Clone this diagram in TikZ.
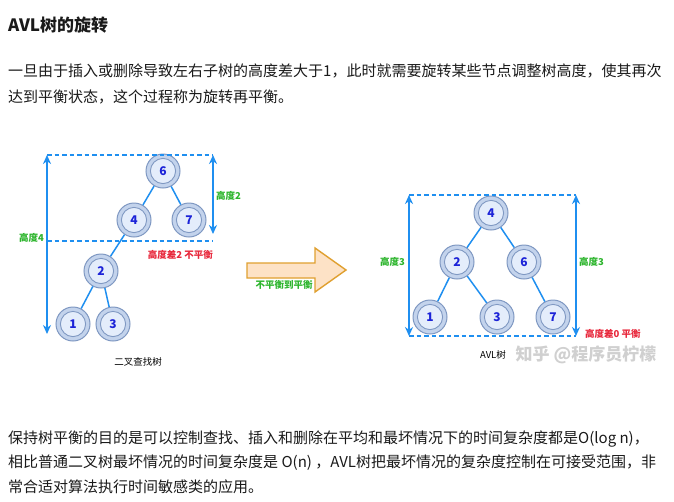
\documentclass[tikz,border=0pt]{standalone}
\usepackage{fontspec}
\setmainfont{Noto Sans CJK SC}
\usetikzlibrary{arrows.meta}

\definecolor{bodytext}{HTML}{1A1A1A}
\definecolor{linkblue}{HTML}{1F8FF0}
\definecolor{ringfill}{HTML}{C3D3EC}
\definecolor{ringdraw}{HTML}{7F98C2}
\definecolor{corefill}{HTML}{E4EDFB}
\definecolor{numblue}{HTML}{1C23D8}
\definecolor{labgreen}{HTML}{2DB52D}
\definecolor{labred}{HTML}{E8283C}
\definecolor{arrowfill}{HTML}{FDE2C6}
\definecolor{arrowdraw}{HTML}{E0A030}
\definecolor{markgrey}{HTML}{D0D0D0}

\tikzset{
  treenode/.style={circle, minimum size=34pt, inner sep=0pt, draw=ringdraw,
    fill=ringfill, line width=1pt, text=numblue, font=\fontsize{12}{12}\selectfont\bfseries,
    path picture={\draw[ringdraw, fill=corefill, line width=0.9pt]
      (path picture bounding box.center) circle (12.6pt);}},
  branch/.style={draw=linkblue, line width=1.5pt},
  measure/.style={draw=linkblue, line width=2pt, {Stealth[length=9pt,width=8pt]}-{Stealth[length=9pt,width=8pt]}},
  guide/.style={draw=linkblue, line width=1.5pt, dash pattern=on 4.5pt off 3pt},
  bodyline/.style={anchor=west, inner sep=0pt, text=bodytext, font=\fontsize{15}{15}\selectfont},
  greenlab/.style={inner sep=0pt, text=labgreen, font=\fontsize{9.5}{9.5}\selectfont\bfseries},
  redlab/.style={inner sep=0pt, text=labred, font=\fontsize{9.5}{9.5}\selectfont\bfseries},
  caption/.style={inner sep=0pt, text=black, font=\fontsize{9.5}{9.5}\selectfont},
  blockarrow/.style={draw=arrowdraw, fill=arrowfill, line width=1.4pt, line join=miter},
}

\begin{document}
\begin{tikzpicture}[x=1pt, y=-1pt]
\useasboundingbox[fill=white] (0,0) rectangle (674,501);

% heading and first paragraph
\node[anchor=west, inner sep=0pt, text=bodytext, font=\fontsize{17}{17}\selectfont\bfseries] (title) at (8,25) {AVL树的旋转};
\node[bodyline] (p1a) at (8,71) {一旦由于插入或删除导致左右子树的高度差大于1，此时就需要旋转某些节点调整树高度，使其再次};
\node[bodyline] (p1b) at (8,97) {达到平衡状态，这个过程称为旋转再平衡。};

% ---- unbalanced binary search tree ----
\node[treenode] (l6) at (163,171) {6};
\node[treenode] (l4) at (134,220) {4};
\node[treenode] (l7) at (189,220) {7};
\node[treenode] (l2) at (101,271) {2};
\node[treenode] (l1) at (73,324) {1};
\node[treenode] (l3) at (113,324) {3};
\draw[branch] (l6) -- (l4);
\draw[branch] (l6) -- (l7);
\draw[branch] (l4) -- (l2);
\draw[branch] (l2) -- (l1);
\draw[branch] (l2) -- (l3);

\coordinate (lTopL) at (47,155);
\coordinate (lTopR) at (213,155);
\coordinate (lMidL) at (47,241);
\coordinate (lMidR) at (213,241);
\coordinate (lBot)  at (47,334);
\coordinate (lMidRa) at (213,234);
\draw[guide] (lTopL) -- (lTopR);
\draw[guide] (lMidL) -- (lMidR);
\draw[measure] (lTopL) -- (lBot);
\draw[measure] (lTopR) -- (lMidRa);

\node[greenlab, anchor=east] (h4) at (44,238) {高度4};
\node[greenlab, anchor=west] (h2) at (216,196) {高度2};
\node[redlab, anchor=east] (d2) at (213,255) {高度差2 不平衡};
\node[caption] (bst) at (138,362) {二叉查找树};

% ---- rotation arrow ----
\draw[blockarrow] (247,263) -- (315,263) -- (315,248) -- (346,270)
  -- (315,292) -- (315,278) -- (247,278) -- cycle;
\node[greenlab] (rotlab) at (284,285) {不平衡到平衡};

% ---- balanced AVL tree ----
\node[treenode] (r4) at (491,213) {4};
\node[treenode] (r2) at (457,262) {2};
\node[treenode] (r6) at (524,262) {6};
\node[treenode] (r1) at (430,317) {1};
\node[treenode] (r3) at (497,317) {3};
\node[treenode] (r7) at (553,317) {7};
\draw[branch] (r4) -- (r2);
\draw[branch] (r4) -- (r6);
\draw[branch] (r2) -- (r1);
\draw[branch] (r2) -- (r3);
\draw[branch] (r6) -- (r7);

\coordinate (rTopL) at (409,195);
\coordinate (rTopR) at (576,195);
\coordinate (rBotL) at (409,336);
\coordinate (rBotR) at (576,336);
\draw[guide] (rTopL) -- (rTopR);
\draw[guide] (rBotL) -- (rBotR);
\draw[measure] (rTopL) -- (rBotL);
\draw[measure] (rTopR) -- (rBotR);

\node[greenlab, anchor=east] (h3l) at (405,262) {高度3};
\node[greenlab, anchor=west] (h3r) at (579,262) {高度3};
\node[redlab, anchor=west] (d0) at (585,334) {高度差0 平衡};
\node[caption] (avl) at (493,355) {AVL树};
\node[inner sep=0pt, text=markgrey, font=\fontsize{17}{17}\selectfont\bfseries] (mark) at (586,355) {知乎 @程序员柠檬};

% closing paragraph
\node[bodyline] (p2a) at (8,439) {保持树平衡的目的是可以控制查找、插入和删除在平均和最坏情况下的时间复杂度都是O(log n)，};
\node[bodyline] (p2b) at (8,463) {相比普通二叉树最坏情况的时间复杂度是 O(n) ，AVL树把最坏情况的复杂度控制在可接受范围，非};
\node[bodyline] (p2c) at (8,487) {常合适对算法执行时间敏感类的应用。};
\end{tikzpicture}
\end{document}
